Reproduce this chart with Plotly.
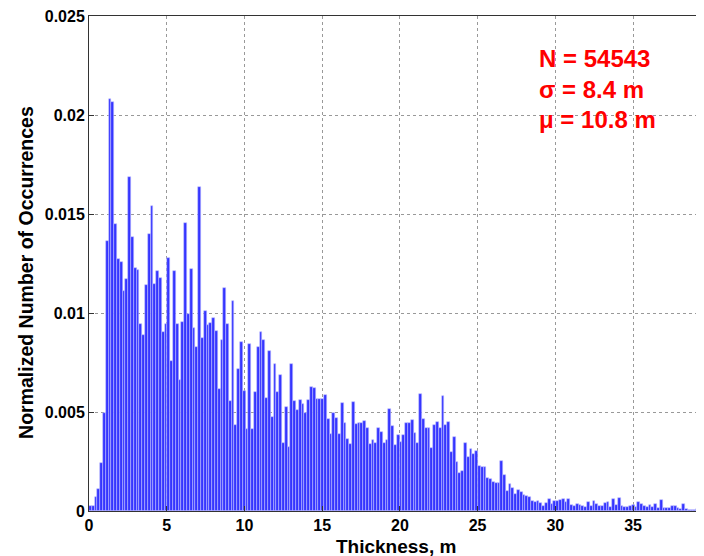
import plotly.graph_objects as go

# Histogram of thickness (bin width 0.18 m), normalized occurrences
BIN_WIDTH = 0.18
counts = [
    0.00025, 0.00025, 0.00069, 0.00109, 0.0024, 0.00493, 0.01363, 0.02081, 0.02068, 0.01448,
    0.01271, 0.01256, 0.0111, 0.01173, 0.01685, 0.01384, 0.01226, 0.01217, 0.00944, 0.00889,
    0.01141, 0.01399, 0.0154, 0.01146, 0.01212, 0.01178, 0.00902, 0.00943, 0.01278, 0.00759,
    0.01212, 0.00943, 0.00662, 0.00956, 0.01456, 0.00993, 0.01222, 0.00926, 0.0083, 0.01638,
    0.00872, 0.01011, 0.00939, 0.00948, 0.00973, 0.00911, 0.00616, 0.00864, 0.01128, 0.00943,
    0.00557, 0.01061, 0.00434, 0.00717, 0.00855, 0.00608, 0.00414, 0.00843, 0.00414, 0.00603,
    0.0083, 0.00904, 0.00862, 0.00569, 0.0081, 0.00476, 0.00741, 0.00603, 0.00687, 0.00342,
    0.00524, 0.00322, 0.00741, 0.00557, 0.0051, 0.00561, 0.0054, 0.00497, 0.00561, 0.00625,
    0.0062, 0.00564, 0.00564, 0.00566, 0.00586, 0.00465, 0.00389, 0.00493, 0.00471, 0.00389,
    0.00544, 0.00446, 0.00362, 0.00338, 0.00549, 0.00439, 0.00446, 0.00446, 0.00455, 0.00421,
    0.00338, 0.00359, 0.00345, 0.00421, 0.004, 0.00345, 0.00359, 0.00517, 0.00429, 0.00332,
    0.00384, 0.0035, 0.00384, 0.00443, 0.00446, 0.0046, 0.00392, 0.00345, 0.00589, 0.00463,
    0.00417, 0.00417, 0.0032, 0.00434, 0.00451, 0.00417, 0.00581, 0.00434, 0.00448, 0.003,
    0.00372, 0.00249, 0.0019, 0.00204, 0.00345, 0.00274, 0.00315, 0.00286, 0.00305, 0.00227,
    0.0022, 0.0022, 0.00167, 0.0016, 0.00148, 0.00143, 0.00143, 0.00254, 0.0018, 0.00103,
    0.00135, 0.00114, 0.00084, 0.00106, 0.00098, 0.00081, 0.00076, 0.00072, 0.0005, 0.00047,
    0.00052, 0.00042, 0.00025, 0.00039, 0.00059, 0.00035, 0.0005, 0.00052, 0.00056, 0.00062,
    0.00045, 0.00062, 0.00029, 0.00025, 0.00035, 0.00032, 0.00025, 0.00022, 0.00044, 0.00025,
    0.00052, 0.00035, 0.00025, 0.00025, 0.00042, 0.00045, 0.00022, 0.00061, 0.0003, 0.00064,
    0.00025, 0.00022, 0.00019, 0.00025, 0.0003, 0.00019, 0.00045, 0.00035, 0.00025, 0.00022,
    0.00032, 0.00022, 0.00035, 0.00017, 0.00054, 0.00017, 0.00017, 0.00017, 0.00025, 0.00025,
    0.00013, 0.00012, 0.00034, 0.0001, 0.00005, 0.00005, 0.00005, 0.0001, 0.00005, 0.00005,
]
bin_centers = [BIN_WIDTH * (i + 0.5) for i in range(len(counts))]

x_ticks = [0, 5, 10, 15, 20, 25, 30, 35]
y_ticks = [0, 0.005, 0.01, 0.015, 0.02, 0.025]
y_tick_labels = ["0", "0.005", "0.01", "0.015", "0.02", "0.025"]
x_title = "Thickness, m"
y_title = "Normalized Number of Occurrences"
stats_lines = ["N = 54543", "σ = 8.4 m", "μ = 10.8 m"]
stats_y = [0.02285, 0.0213, 0.01975]

FONT = "Liberation Sans, Arial, Helvetica, sans-serif"

fig = go.Figure()
fig.add_trace(go.Bar(
    x=bin_centers, y=counts, width=BIN_WIDTH,
    marker=dict(color="#3535ff", line=dict(color="rgba(200,200,255,0.9)", width=0.6)),
))

for txt, yy in zip(stats_lines, stats_y):
    fig.add_annotation(x=28.8, y=yy, xref="x", yref="y", text=txt, showarrow=False,
                       xanchor="left", yanchor="middle",
                       font=dict(family=FONT, size=24, color="#ff0000", weight="bold"))

# axis titles placed as paper annotations for precise placement
fig.add_annotation(x=0.5, y=-0.071, xref="paper", yref="paper", text=x_title,
                   showarrow=False, xanchor="center", yanchor="middle",
                   font=dict(family=FONT, size=19, color="black", weight="bold"))
fig.add_annotation(x=-0.1026, y=0.481, xref="paper", yref="paper", text=y_title,
                   showarrow=False, xanchor="center", yanchor="middle", textangle=-90,
                   font=dict(family=FONT, size=19.5, color="black", weight="bold"))

axis_common = dict(
    showline=True, linecolor="#333333", linewidth=1, mirror=True,
    ticks="inside", ticklen=5, tickcolor="#333333",
    showgrid=True, gridcolor="#999999", griddash="dot", gridwidth=1,
    zeroline=False, automargin=False, ticklabeloverflow="allow",
    tickfont=dict(family=FONT, size=16, color="black", weight="bold"),
)

fig.update_xaxes(range=[0, 39.5], tickmode="array", tickvals=x_ticks, **axis_common)
fig.update_yaxes(range=[0, 0.025], tickmode="array", tickvals=y_ticks, ticktext=y_tick_labels,
                 **axis_common)

# the page body adds an 8px offset; margins compensate so the plot area
# lands at the reference position (x 89-703, y 16-511 in the window)
fig.update_layout(
    width=704, height=556,
    margin=dict(l=81, r=9, t=8, b=53),
    plot_bgcolor="white", paper_bgcolor="white",
    bargap=0, showlegend=False,
)

fig.write_html("out.html")
